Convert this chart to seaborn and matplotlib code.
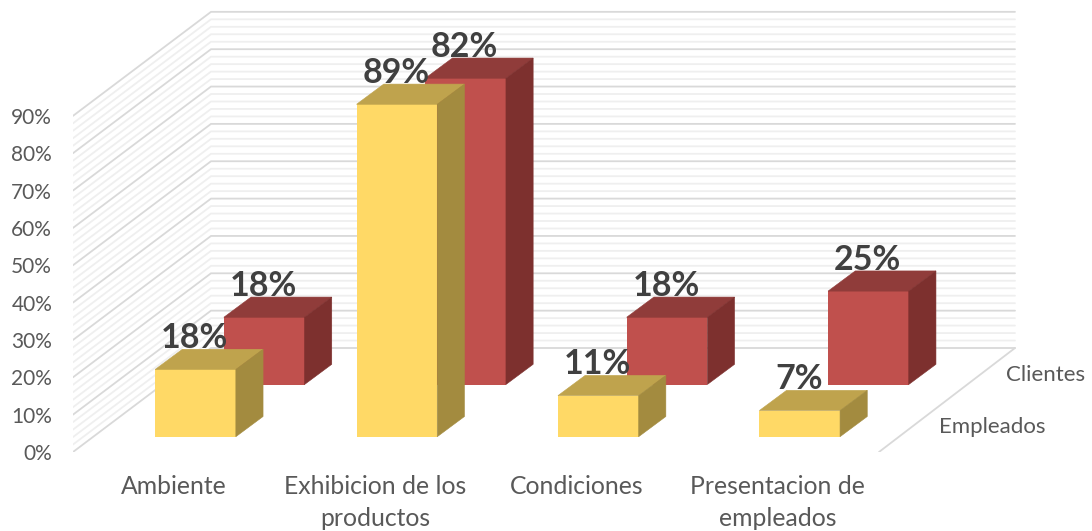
import matplotlib
matplotlib.use("Agg")
import matplotlib.pyplot as plt
from matplotlib.patches import Polygon
import numpy as np
import seaborn as sns

categories = ["Ambiente", "Exhibicion de los\nproductos", "Condiciones", "Presentacion de\nempleados"]
empleados = [18, 89, 11, 7]
clientes = [18, 82, 18, 25]
axis_ticks = [0, 10, 20, 30, 40, 50, 60, 70, 80, 90]
axis_labels = [f"{t}%" for t in axis_ticks]
series_names = ["Empleados", "Clientes"]

W, H = 1092, 531
PX_PER_PCT = 3.735
PX_PER_CAT = 201.4
BAR_W = 80.7 / PX_PER_CAT
DEPTH_X = 27.2 / PX_PER_CAT
DEPTH_Y = 20.2 / PX_PER_PCT
LABEL_SHIFT = 22 / PX_PER_CAT

sns.set_theme(style="white")
plt.rcParams["font.family"] = ["Lato", "DejaVu Sans"]
fig = plt.figure(figsize=(W / 100, H / 100), dpi=100)
fig.patch.set_facecolor("white")


def layer(center_px, floor_py, z):
    ax = fig.add_axes([0, 1 - floor_py / H, 1, floor_py / H], zorder=z)
    ax.patch.set_visible(False)
    for s in ax.spines.values():
        s.set_visible(False)
    return ax, (-center_px / PX_PER_CAT, (W - center_px) / PX_PER_CAT), (0, floor_py / PX_PER_PCT)


# back walls, drawn from the value axis
base = fig.add_axes([73 / W, 1 - 452 / H, (W - 73) / W, 452 / H], zorder=0)
base.patch.set_visible(False)
for s in base.spines.values():
    s.set_visible(False)
base.set_xlim(73, W)
base.set_ylim(0, 452 / PX_PER_PCT)
WALL_X, WALL_UP, WALL_END = 211, 104 / PX_PER_PCT, 1015
for v in np.arange(0, 91, 2):
    major = v % 10 == 0
    base.plot([73, WALL_X, WALL_END], [v, v + WALL_UP, v + WALL_UP],
              color="#D9D9D9" if major else "#EFEFEF", lw=1.3,
              zorder=2 if major else 1, solid_joinstyle="miter")
base.plot([WALL_END, 879], [WALL_UP, 0], color="#D9D9D9", lw=1.3)
base.set_xticks([])
base.set_yticks(axis_ticks)
base.set_yticklabels(axis_labels)
base.tick_params(axis="y", length=0, pad=15, labelsize=15, labelcolor="#595959")
base.grid(False)


def bars(ax, xlim, ylim, values, front, top, side):
    sns.barplot(x=categories, y=values, color=front, saturation=1, width=BAR_W,
                ax=ax, zorder=3, linewidth=0)
    ax.set_xlim(*xlim)
    ax.set_ylim(*ylim)
    ax.set_ylabel("")
    ax.set_yticks([])
    for i, v in enumerate(values):
        l, r = i - BAR_W / 2, i + BAR_W / 2
        ax.add_patch(Polygon([(l, v), (r, v), (r + DEPTH_X, v + DEPTH_Y), (l + DEPTH_X, v + DEPTH_Y)],
                             fc=top, ec=top, lw=0.4, zorder=3))
        ax.add_patch(Polygon([(r, 0), (r, v), (r + DEPTH_X, v + DEPTH_Y), (r + DEPTH_X, DEPTH_Y)],
                             fc=side, ec=side, lw=0.4, zorder=3))
        ax.annotate(f"{v}%", (i, v), xytext=(-1 * 0.72, 31.5 * 0.72), textcoords="offset points",
                    ha="center", va="center", fontsize=24.5, fontweight="bold",
                    color="#404040", zorder=6, annotation_clip=False)


red_ax, xl, yl = layer(264.2, 384.5, 1)
bars(red_ax, xl, yl, clientes, "#C0504D", "#903C3A", "#7D302E")
red_ax.set_xticks([])

yel_ax, xl, yl = layer(195.5, 436.7, 2)
bars(yel_ax, xl, yl, empleados, "#FFD966", "#BFA34D", "#A38B3F")
yel_ax.set_xticks(np.arange(len(categories)) - LABEL_SHIFT)
yel_ax.set_xticklabels(categories, linespacing=1.46)
yel_ax.tick_params(axis="x", length=0, pad=27.7, labelsize=17.8, labelcolor="#595959")

fig.text(1046 / W, 1 - 375 / H, series_names[1], ha="center", va="center", fontsize=16, color="#595959")
fig.text(992 / W, 1 - 427 / H, series_names[0], ha="center", va="center", fontsize=16, color="#595959")

fig.savefig("out.png", dpi=100)
